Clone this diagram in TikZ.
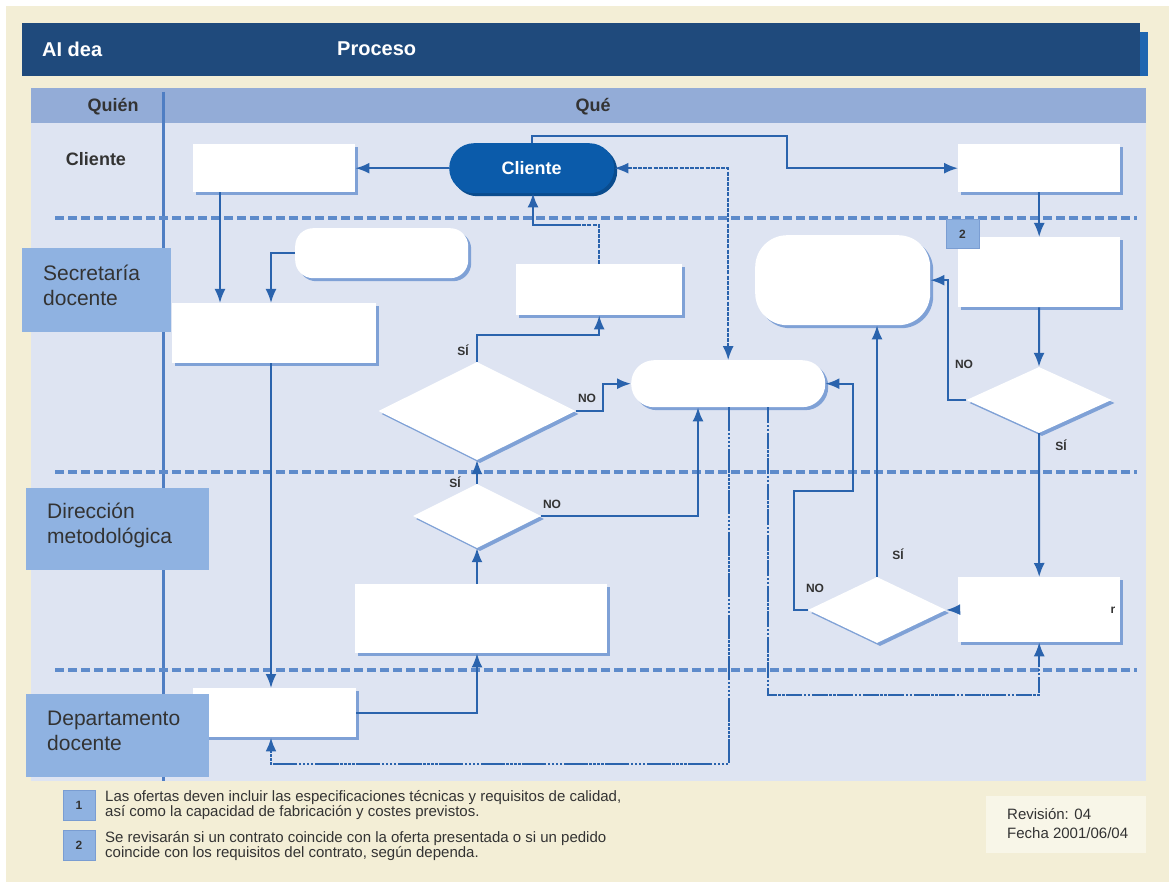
\documentclass[tikz,border=0pt]{standalone}
\usepackage{fontspec}
\setmainfont{Liberation Sans}
\usetikzlibrary{arrows.meta,shapes.geometric,shadows}

\definecolor{cream}{HTML}{F3EED6}
\definecolor{headblue}{HTML}{1F4A7C}
\definecolor{tabblue}{HTML}{1F66B0}
\definecolor{rowblue}{HTML}{93ACD7}
\definecolor{bodyblue}{HTML}{DEE4F2}
\definecolor{laneblue}{HTML}{8FB2E1}
\definecolor{laneedge}{HTML}{7A9DD2}
\definecolor{lineblue}{HTML}{2A63AD}
\definecolor{sepblue}{HTML}{5E8BCB}
\definecolor{divblue}{HTML}{4F7EC3}
\definecolor{termblue}{HTML}{0B5BAA}
\definecolor{termshadow}{HTML}{0A4C8E}
\definecolor{shadowc}{HTML}{7FA1D6}
\definecolor{textgray}{HTML}{333333}
\definecolor{revbox}{HTML}{F8F6E8}

\begin{document}
\begin{tikzpicture}[x=1pt,y=-1pt,
  tip/.tip={Latex[length=14pt,width=11pt]},
  box/.style={rectangle, fill=white, inner sep=0pt, anchor=north west,
    drop shadow={shadow xshift=3pt, shadow yshift=-3pt, fill=shadowc, opacity=1}},
  dia/.style={diamond, fill=white, inner sep=0pt,
    drop shadow={shadow xshift=3pt, shadow yshift=-3pt, fill=shadowc, opacity=1}},
  flow/.style={draw=lineblue, line width=2pt, -tip},
  dotline/.style={draw=lineblue, line width=1.6pt, dash pattern=on 4pt off 1.2pt},
  mixflow/.style={draw=lineblue, line width=2.6pt,
    dash pattern=on 24pt off 1.5pt on 2.5pt off 1.5pt on 2.5pt off 1.5pt on 2.5pt off 1.5pt on 2.5pt off 1.5pt,
    -tip},
  mixthin/.style={draw=lineblue, line width=1.6pt,
    dash pattern=on 16pt off 1.5pt on 2.5pt off 1.5pt on 2.5pt off 1.5pt,
    -tip},
  sep/.style={draw=sepblue, line width=4pt, dash pattern=on 9pt off 4pt},
  yn/.style={font=\fontsize{12}{12}\selectfont\bfseries, text=textgray, inner sep=0pt},
  lane/.style={fill=laneblue},
  lanetext/.style={anchor=west, align=left, inner sep=0pt, text=textgray,
    font=\fontsize{21}{25}\selectfont},
  numbox/.style={draw=laneedge, fill=laneblue, line width=1pt},
  numtext/.style={font=\fontsize{12}{12}\selectfont\bfseries, text=textgray, inner sep=0pt},
  notetext/.style={anchor=west, align=left, inner sep=0pt, text=textgray,
    font=\fontsize{15}{15}\selectfont}
]
% page and frame
\useasboundingbox (0,0) rectangle (1169,882);
\fill[white] (0,0) rectangle (1169,882);
\fill[cream] (6,6) rectangle (1169,882);

% title bar
\fill[tabblue] (1130,32) rectangle (1148,76);
\fill[headblue] (22,23) rectangle (1140,76);
\node[anchor=west, text=white, inner sep=0pt, font=\fontsize{20}{20}\selectfont\bfseries] (ttl1) at (42,49) {AI dea};
\node[anchor=west, text=white, inner sep=0pt, font=\fontsize{20}{20}\selectfont\bfseries] (ttl2) at (337,49) {Proceso};

% table
\fill[rowblue] (31,88) rectangle (1146,123);
\fill[bodyblue] (31,123) rectangle (1146,781);
\draw[divblue, line width=3pt] (163,92) -- (163,781);
\node[text=textgray, inner sep=0pt, font=\fontsize{18}{18}\selectfont\bfseries] (quien) at (113,107) {Quién};
\node[text=textgray, inner sep=0pt, font=\fontsize{18}{18}\selectfont\bfseries] (que) at (593,107) {Qué};

% lane separators
\draw[sep] (55,218) -- (1137,218);
\draw[sep] (55,472) -- (1137,472);
\draw[sep] (55,670) -- (1137,670);

% process nodes
\node[box, minimum width=162pt, minimum height=48pt] (A) at (193,144) {};
\node[rectangle, rounded corners=25pt, fill=termblue, anchor=north west, inner sep=0pt,
  minimum width=165pt, minimum height=50pt, text=white,
  font=\fontsize{18}{18}\selectfont\bfseries,
  drop shadow={shadow xshift=3pt, shadow yshift=-3pt, fill=termshadow, opacity=1}] (cli) at (449,143) {Cliente};
\node[box, minimum width=162pt, minimum height=48pt] (B) at (958,144) {};
\node[box, rounded corners=18pt, minimum width=173pt, minimum height=50pt] (C) at (295,228) {};
\node[box, minimum width=204pt, minimum height=60pt] (D) at (172,303) {};
\node[box, minimum width=166pt, minimum height=51pt] (E) at (516,264) {};
\node[box, minimum width=162pt, minimum height=70pt] (F) at (958,237) {};
\node[box, rounded corners=32pt, minimum width=175pt, minimum height=90pt] (G) at (755,235) {};
\node[dia, minimum width=197pt, minimum height=98pt] (H) at (477,411) {};
\node[box, rounded corners=23pt, minimum width=194pt, minimum height=47pt] (I) at (631,360) {};
\node[dia, minimum width=145pt, minimum height=66pt] (J) at (1039,400) {};
\node[dia, minimum width=128pt, minimum height=64pt] (K) at (477,516) {};
\node[box, minimum width=252pt, minimum height=69pt] (L) at (355,584) {};
\node[dia, minimum width=138pt, minimum height=66pt] (M) at (877,610) {};
\node[box, minimum width=162pt, minimum height=65pt] (N) at (958,577) {};
\node[box, minimum width=163pt, minimum height=49pt] (O) at (193,688) {};
\node[text=textgray, inner sep=0pt, font=\fontsize{12}{12}\selectfont\bfseries] (Nr) at (1113,610) {r};

% note marker 2
\draw[numbox] (946,220) rectangle (979,249);
\node[numtext] (mk2) at (962.5,234.5) {2};

% routing points
\coordinate (xa) at (220,0);
\coordinate (xd) at (271,0);
\coordinate (xcu) at (533,0);
\coordinate (ec) at (580,225);
\coordinate (yhs) at (0,335);
\coordinate (xhn) at (603,0);
\coordinate (xk) at (698,0);
\coordinate (xi2) at (729,0);
\coordinate (xi3) at (768,0);
\coordinate (yb) at (0,764);
\coordinate (yb2) at (0,695);
\coordinate (xmn) at (794,0);
\coordinate (ymk) at (0,491);
\coordinate (xin) at (853,0);
\coordinate (xjn) at (948,0);
\coordinate (top) at (787,136);

% connectors
\draw[flow] (cli.west) -- (A.east);
\draw[flow] (cli.north) |- (top) |- (B.west);
\draw[dotline, tip-tip] (cli.east) -| (I.north);
\draw[flow] (A.south -| xa) -- (D.north -| xa);
\draw[flow] (C.west) -| (D.north -| xd);
\draw[flow] (D.south -| xd) -- (O.north -| xd);
\draw[dotline] (E.north) |- (ec);
\draw[flow] (ec) -| (cli.south -| xcu);
\draw[flow] (H.north) |- (E.south |- yhs) -- (E.south);
\draw[flow] (H.east) -- (xhn |- H.east) |- (I.west);
\draw[flow] (K.north) -- (H.south);
\draw[flow] (K.east) -| (I.south -| xk);
\draw[flow] (L.north -| K.south) -- (K.south);
\draw[flow] (O.east) -| (L.south -| K.south);
\draw[mixflow] (I.south -| xi2) |- (xd |- yb) -- (O.south -| xd);
\draw[mixthin] (I.south -| xi3) |- (N.south |- yb2) -- (N.south);
\draw[flow] (M.west) -| (xmn |- ymk) -| (xin |- I.east) -- (I.east);
\draw[flow] (M.north) -- (M.north |- G.south);
\draw[flow] (N.west) -- (M.east);
\draw[flow] (B.south) -- (F.north);
\draw[flow] (F.south) -- (J.north);
\draw[flow] (J.west) -| (xjn |- G.east) -- (G.east);
\draw[flow] (J.south) -- (N.north);

% branch labels
\node[yn] (l1) at (463,350) {SÍ};
\node[yn] (l2) at (587,398) {NO};
\node[yn] (l3) at (455,482) {SÍ};
\node[yn] (l4) at (552,504) {NO};
\node[yn] (l5) at (964,364) {NO};
\node[yn] (l6) at (1061,445) {SÍ};
\node[yn] (l7) at (898,554) {SÍ};
\node[yn] (l8) at (815,588) {NO};

% lanes
\node[text=textgray, inner sep=0pt, font=\fontsize{18}{18}\selectfont\bfseries] (lcli) at (96,159) {Cliente};
\fill[lane] (22,248) rectangle (171,332);
\node[lanetext] (lsec) at (43,285) {Secretaría\\docente};
\fill[lane] (26,488) rectangle (209,570);
\node[lanetext] (ldir) at (47,525) {Dirección\\metodológica};
\fill[lane] (26,694) rectangle (209,777);
\node[lanetext] (ldep) at (47,731) {Departamento\\docente};

% notes
\draw[numbox] (63,790) rectangle (95,820);
\node[numtext] (n1) at (79,805) {1};
\node[notetext] (t1) at (105,805)
  {Las ofertas deven incluir las especificaciones técnicas y requisitos de calidad,\\así como la capacidad de fabricación y costes previstos.};
\draw[numbox] (63,830) rectangle (95,860);
\node[numtext] (n2) at (79,845) {2};
\node[notetext] (t2) at (105,846)
  {Se revisarán si un contrato coincide con la oferta presentada o si un pedido\\coincide con los requisitos del contrato, según dependa.};

% revision
\fill[revbox] (986,796) rectangle (1146,853);
\node[anchor=west, align=left, inner sep=0pt, text=textgray, font=\fontsize{15}{19}\selectfont] (rev) at (1007,824)
  {Revisión: 04\\Fecha 2001/06/04};
\end{tikzpicture}
\end{document}
